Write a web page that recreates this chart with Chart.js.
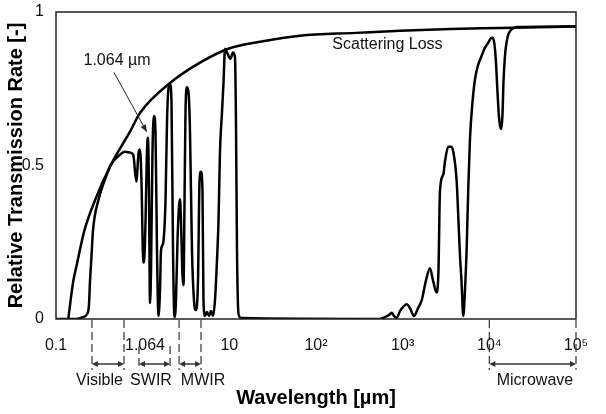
<!DOCTYPE html>
<html>
<head>
<meta charset="utf-8">
<script src="https://cdn.jsdelivr.net/npm/chart.js@4/dist/chart.umd.min.js"></script>
<style>
  html, body { margin: 0; padding: 0; background: #fff; }
  canvas { display: block; }
</style>
</head>
<body>
<canvas id="c" width="606" height="414"></canvas>
<script>
// ---- data (wavelength in µm, relative transmission 0..1) ----
const scatterWavelength = [0.1387, 0.149, 0.159, 0.175, 0.212, 0.289, 0.431, 0.714, 0.931, 2.12, 4.59, 9.91, 22.6, 65.3, 289, 931, 3516, 13280, 100000];
const scatterValue      = [0.0,    0.071, 0.126, 0.181, 0.287, 0.394, 0.503, 0.61,  0.671, 0.771, 0.835, 0.881, 0.903, 0.923, 0.932, 0.939, 0.945, 0.948, 0.953];

const transWavelength = [
  0.1, 0.170, 0.205, 0.228, 0.240, 0.247, 0.257, 0.267, 0.313, 0.368, 0.431, 0.519, 0.625, 0.714,
  0.779, 0.845, 0.900, 0.931, 0.969, 1.009, 1.036, 1.079, 1.122, 1.152, 1.183, 1.215, 1.248, 1.298,
  1.351, 1.406, 1.463, 1.523, 1.585, 1.627, 1.716, 1.834, 1.909, 1.986, 2.068, 2.151, 2.239, 2.33,
  2.424, 2.523, 2.627, 2.696, 2.769, 2.881, 2.96, 3.04, 3.12, 3.247, 3.379, 3.516, 3.707, 3.91,
  4.12, 4.35, 4.53, 4.71, 4.9, 5.03, 5.24, 5.52, 5.83, 6.14, 6.48, 6.83, 7.2, 7.5, 7.8, 8.23, 8.57,
  8.91, 9.4, 10.3, 11.02, 11.62, 11.93, 12.26, 12.76, 13.6,
  547, 625, 695, 747, 794, 853, 931, 1009, 1112, 1215, 1351, 1503, 1658, 1858, 2066, 2239, 2455,
  2589, 2692, 2944, 3077, 3358, 3610, 3837, 4200, 4405, 4585, 4770, 5006, 5236, 5478, 5715, 5980,
  6391, 6831, 7396, 8166, 8913, 9726, 10300, 10930, 11470, 11930, 12420, 12920, 13520, 14190, 14560,
  15160, 15780, 16550, 17780, 19250, 20840, 100000
];
const transValue = [
  0, 0, 0.006, 0.016, 0.045, 0.126, 0.206, 0.287, 0.394, 0.455, 0.503, 0.529, 0.545, 0.542,
  0.535, 0.448, 0.545, 0.552, 0.448, 0.206, 0.184, 0.319, 0.552, 0.59, 0.416, 0.052, 0.158, 0.545,
  0.661, 0.61, 0.223, 0.01, 0.094, 0.223, 0.245, 0.384, 0.642, 0.752, 0.765, 0.706, 0.223, 0.006,
  0.061, 0.255, 0.368, 0.39, 0.319, 0.142, 0.11, 0.384, 0.674, 0.755, 0.739, 0.61, 0.223, 0.061,
  0.029, 0.126, 0.448, 0.48, 0.416, 0.061, 0.01, 0.023, 0.01, 0.026, 0.01, 0.061, 0.19, 0.319, 0.545, 0.674, 0.771,
  0.88, 0.868, 0.848, 0.868, 0.852, 0.642, 0.223, 0.016, 0.003,
  0, 0.006, 0.013, 0.02, 0.01, 0.003, 0.026, 0.039, 0.048, 0.035, 0.01, 0.035, 0.061, 0.126, 0.165, 0.126, 0.087,
  0.158, 0.416, 0.471, 0.513, 0.561, 0.561, 0.545, 0.448, 0.319, 0.206, 0.126, 0.01, 0.094, 0.232, 0.426, 0.587,
  0.706, 0.781, 0.826, 0.858, 0.884, 0.9, 0.913, 0.916, 0.894, 0.835, 0.739, 0.658, 0.619, 0.668, 0.771,
  0.858, 0.9, 0.926, 0.942, 0.948, 0.951, 0.953
];

const xTickValues = [0.1, 1.064, 10, 100, 1000, 10000, 100000];
const xTickLabels = ['0.1', '1.064', '10', '10\u00B2', '10\u00B3', '10\u2074', '10\u2075'];
const yTickValues = [0, 0.5, 1];
const yTickLabels = ['0', '0.5', '1'];

// spectral bands shown under the axis (µm)
const bandNames   = ['Visible', 'SWIR', 'MWIR', 'Microwave'];
const bandStart   = [0.26, 0.907, 2.63, 10000];
const bandEnd     = [0.609, 2.07, 4.71, 100000];
const bandLabelAt = [0.318, 1.248, 4.97, 33600];

// text notes inside the plot
const noteTexts      = ['1.064 \u00B5m', 'Scattering Loss'];
const noteWavelength = [0.506, 668];
const noteValue      = [0.842, 0.894];
const arrowFrom = { x: 0.467, y: 0.803 };
const arrowTo   = { x: 1.113, y: 0.61 };

// ---- drawing ----
const FONT = '"Liberation Sans", Arial, Helvetica, sans-serif';

function head(ctx, x, y, ang, len, half) {
  const c = Math.cos(ang), s = Math.sin(ang);
  ctx.beginPath();
  ctx.moveTo(x, y);
  ctx.lineTo(x - len * c + half * s, y - len * s - half * c);
  ctx.lineTo(x - len * c - half * s, y - len * s + half * c);
  ctx.closePath();
  ctx.fill();
}

const extras = {
  id: 'extras',
  afterDraw(chart) {
    const { ctx, chartArea: a, scales: { x, y } } = chart;
    ctx.save();
    // plot frame
    ctx.strokeStyle = '#222';
    ctx.lineWidth = 1.5;
    ctx.strokeRect(a.left, a.top, a.right - a.left, a.bottom - a.top);

    // notes
    ctx.fillStyle = '#111';
    ctx.font = '16px ' + FONT;
    ctx.textAlign = 'center';
    ctx.textBaseline = 'middle';
    noteTexts.forEach((t, i) => {
      ctx.fillText(t, x.getPixelForValue(noteWavelength[i]), y.getPixelForValue(noteValue[i]));
    });
    // arrow to 1.064 µm
    const x0 = x.getPixelForValue(arrowFrom.x), y0 = y.getPixelForValue(arrowFrom.y);
    const x1 = x.getPixelForValue(arrowTo.x), y1 = y.getPixelForValue(arrowTo.y);
    ctx.strokeStyle = '#222';
    ctx.lineWidth = 1;
    ctx.beginPath(); ctx.moveTo(x0, y0); ctx.lineTo(x1, y1); ctx.stroke();
    ctx.fillStyle = '#222';
    head(ctx, x1, y1, Math.atan2(y1 - y0, x1 - x0), 7, 3);

    // bands below axis
    bandNames.forEach((name, i) => {
      const p1 = x.getPixelForValue(bandStart[i]);
      const p2 = x.getPixelForValue(bandEnd[i]);
      const top = name === 'SWIR' ? a.bottom + 27 : a.bottom + 1;
      const bot = a.bottom + 51;
      const ay = a.bottom + 45;
      ctx.strokeStyle = '#333';
      ctx.lineWidth = 1.2;
      ctx.setLineDash([8, 4]);
      [p1, p2].forEach(p => {
        ctx.beginPath(); ctx.moveTo(p, top); ctx.lineTo(p, bot); ctx.stroke();
      });
      ctx.setLineDash([]);
      ctx.lineWidth = 1.5;
      ctx.beginPath(); ctx.moveTo(p1 + 4, ay); ctx.lineTo(p2 - 4, ay); ctx.stroke();
      ctx.fillStyle = '#333';
      head(ctx, p1, ay, Math.PI, 6, 3);
      head(ctx, p2, ay, 0, 6, 3);
      ctx.fillStyle = '#111';
      ctx.font = '16px ' + FONT;
      ctx.textAlign = 'center';
      ctx.textBaseline = 'middle';
      ctx.fillText(name, x.getPixelForValue(bandLabelAt[i]), a.bottom + 62);
    });
    ctx.restore();
  }
};

const lineStyle = {
  borderColor: '#000',
  borderWidth: 2.5,
  pointRadius: 0,
  fill: false,
  cubicInterpolationMode: 'monotone'
};

new Chart(document.getElementById('c'), {
  type: 'line',
  data: {
    datasets: [
      Object.assign({ label: 'Scattering Loss',
        data: scatterWavelength.map((w, i) => ({ x: w, y: scatterValue[i] })) }, lineStyle),
      Object.assign({ label: 'Transmission',
        data: transWavelength.map((w, i) => ({ x: w, y: transValue[i] })) }, lineStyle)
    ]
  },
  options: {
    responsive: false,
    animation: false,
    devicePixelRatio: 1,
    layout: { padding: { left: 0, right: 30, top: 9, bottom: 0 } },
    plugins: { legend: { display: false }, tooltip: { enabled: false } },
    scales: {
      x: {
        type: 'logarithmic',
        min: 0.1, max: 100000,
        grid: { display: false },
        border: { display: false },
        afterBuildTicks: s => { s.ticks = xTickValues.map(v => ({ value: v })); },
        afterFit: s => { s.height = 95; },
        ticks: {
          autoSkip: false, maxRotation: 0, minRotation: 0, padding: 9,
          color: '#111', font: { family: FONT, size: 16 },
          callback: (v, i) => xTickLabels[i]
        },
        title: {
          display: true, text: 'Wavelength [\u00B5m]', color: '#000',
          font: { family: FONT, size: 20, weight: 'bold' },
          padding: { top: 0, bottom: 4 }
        }
      },
      y: {
        min: 0, max: 1,
        grid: { display: false },
        border: { display: false },
        afterBuildTicks: s => { s.ticks = yTickValues.map(v => ({ value: v })); },
        afterFit: s => { s.width = 56; },
        ticks: {
          padding: 4, color: '#111', font: { family: FONT, size: 16, lineHeight: 1 },
          callback: (v, i) => yTickLabels[i]
        },
        title: {
          display: true, text: 'Relative Transmission Rate [-]', color: '#000',
          font: { family: FONT, size: 20, weight: 'bold' },
          padding: { top: 4, bottom: 0 }
        }
      }
    }
  },
  plugins: [extras]
});
</script>
</body>
</html>
